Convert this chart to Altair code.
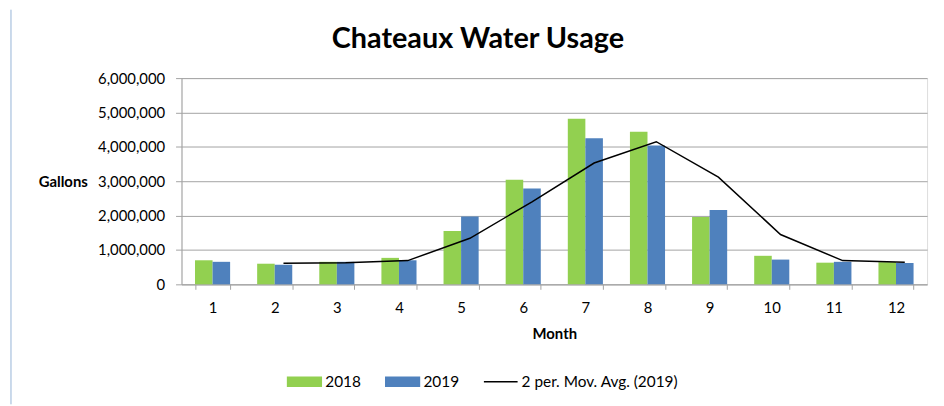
import altair as alt
import pandas as pd

# ---- data ----
months = [1, 2, 3, 4, 5, 6, 7, 8, 9, 10, 11, 12]
usage_2018 = [700000, 600000, 655000, 770000, 1550000, 3040000,
              4820000, 4440000, 1960000, 830000, 630000, 645000]
usage_2019 = [655000, 570000, 655000, 700000, 1975000, 2790000,
              4250000, 4040000, 2160000, 720000, 655000, 620000]
ma_months = [2, 3, 4, 5, 6, 7, 8, 9, 10, 11, 12]
ma_2019 = [612000, 625000, 690000, 1340000, 2400000, 3530000,
           4150000, 3120000, 1450000, 690000, 645000]
y_ticks = [0, 1000000, 2000000, 3000000, 4000000, 5000000, 6000000]

S18, S19, SMA = "2018", "2019", "2 per. Mov. Avg. (2019)"
GREEN, BLUE, BLACK = "#92D050", "#4F81BD", "#000000"
FONT = "Lato"
GRID = "#A3A3A3"

bar_df = pd.DataFrame({
    "Month": months * 2,
    "Series": [S18] * 12 + [S19] * 12,
    "Gallons": usage_2018 + usage_2019,
})
ma_df = pd.DataFrame({"Month": ma_months, "Gallons": ma_2019})
border_df = pd.DataFrame({"k": [0]})

color_scale = alt.Scale(domain=[S18, S19, SMA], range=[GREEN, BLUE, BLACK])

shape_expr = "datum.value === '" + SMA + "' ? 'stroke' : 'M-1,-0.27H1V0.27H-1Z'"
fill_expr = "datum.value === '" + SMA + "' ? 'transparent' : scale('color', datum.value)"
stroke_expr = "datum.value === '" + SMA + "' ? '#000000' : 'transparent'"

legend = alt.Legend(
    title=None, orient="none", legendX=106, legendY=288,
    direction="horizontal", columns=3,
    symbolSize=1156, symbolStrokeWidth=1.5,
    symbolType={"expr": shape_expr},
    symbolFillColor={"expr": fill_expr},
    symbolStrokeColor={"expr": stroke_expr},
    symbolOpacity=1,
    labelFont=FONT, labelFontSize=15.5, labelColor="#000000",
    labelOffset=3, columnPadding=22,
)

x_scale = alt.Scale(domain=months, paddingInner=0.435, paddingOuter=0.2175)
y_scale = alt.Scale(domain=[0, 6000000], nice=False)
x_axis = alt.Axis(
    title="Month", titleFont=FONT, titleFontSize=15, titleFontWeight="bold",
    titleColor="#000000", titleY=50, titleBaseline="middle",
    labelFont=FONT, labelFontSize=15, labelColor="#000000", labelAngle=0,
    labelBaseline="middle", labelPadding=18,
    tickBand="extent", tickSize=5, tickColor=GRID, domainColor=GRID,
    grid=False,
)
y_axis = alt.Axis(
    title="Gallons", titleFont=FONT, titleFontSize=15, titleFontWeight="bold",
    titleColor="#000000", titleAngle=0, titleAlign="right",
    titleBaseline="middle", titleX=-95, titleY=104,
    values=y_ticks, tickCount=10, format=",d", labelOverlap=False,
    labelFont=FONT, labelFontSize=15, labelColor="#000000",
    labelPadding=11, tickSize=6, tickColor=GRID, domainColor=GRID,
    grid=True, gridColor=GRID,
)

bars = alt.Chart(bar_df).mark_bar().encode(
    x=alt.X("Month:O", scale=x_scale, axis=x_axis),
    xOffset=alt.XOffset("Series:N", scale=alt.Scale(domain=[S18, S19],
                                                  paddingInner=0, paddingOuter=0)),
    y=alt.Y("Gallons:Q", scale=y_scale, axis=y_axis),
    color=alt.Color("Series:N", scale=color_scale, legend=legend),
)

line = alt.Chart(ma_df).mark_line(strokeWidth=1.5).encode(
    x=alt.X("Month:O", bandPosition=0.75, scale=x_scale, axis=x_axis),
    y=alt.Y("Gallons:Q", scale=y_scale, axis=y_axis),
    color=alt.datum(SMA),
)

border = alt.Chart(border_df).mark_rule(color="#95B3D7", strokeWidth=1).encode(
    x=alt.value(-172), y=alt.value(-69), y2=alt.value(329),
)

chart = alt.layer(bars, line, border).properties(
    width=752, height=208,
    autosize=alt.AutoSizeParams(type="none"),
    padding={"left": 175, "top": 69, "right": 9, "bottom": 121},
    title=alt.TitleParams(
        "Chateaux Water Usage", font=FONT, fontSize=29, fontWeight="bold",
        color="#000000", anchor="middle", frame="group", dx=-77,
        baseline="alphabetic", offset=-68,
    ),
).configure_view(stroke=None).configure(background="#ffffff")

chart.save("out.html", embed_options={"renderer": "svg", "actions": False})
